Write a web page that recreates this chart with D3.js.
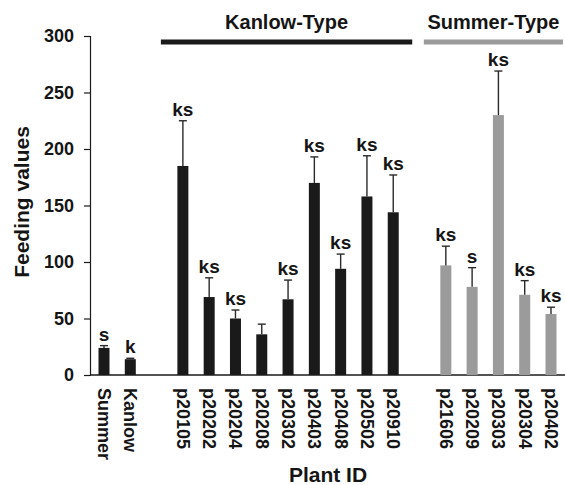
<!DOCTYPE html>
<html>
<head>
<meta charset="utf-8">
<script src="https://cdn.jsdelivr.net/npm/d3@7/dist/d3.min.js"></script>
<style>
  html, body { margin: 0; padding: 0; background: #fff; }
  svg { display: block; }
  text { font-family: "Liberation Sans", Arial, Helvetica, sans-serif; font-weight: bold; fill: #151515; }
</style>
</head>
<body>
<svg id="chart" width="565" height="485"></svg>
<script>
// ---- data ----
const categories = ["Summer","Kanlow","p20105","p20202","p20204","p20208","p20302","p20403","p20408","p20502","p20910","p21606","p20209","p20303","p20304","p20402"];
const groups     = ["control","control","kanlow","kanlow","kanlow","kanlow","kanlow","kanlow","kanlow","kanlow","kanlow","summer","summer","summer","summer","summer"];
const values     = [24, 14, 185, 69, 50, 36, 67, 170, 94, 158, 144, 97, 78, 230, 71, 54];
const errors     = [2, 0.8, 40, 17, 7.5, 9, 17, 23, 13, 36, 33, 17, 17, 39, 12.5, 6];
const letters    = ["s","k","ks","ks","ks","","ks","ks","ks","ks","ks","ks","s","ks","ks","ks"];
const yTicks     = [0, 50, 100, 150, 200, 250, 300];
const headerLabels = ["Kanlow-Type", "Summer-Type"];
const headerGroups = ["kanlow", "summer"];
const groupColors  = {control: "#1a1a1a", kanlow: "#1a1a1a", summer: "#9b9b9b"};

// ---- build slot domain (a blank slot between groups) ----
const slots = [];
categories.forEach((c, i) => {
  if (i > 0 && groups[i] !== groups[i - 1]) slots.push("__gap" + i);
  slots.push(c);
});

const svg = d3.select("#chart");
const x = d3.scalePoint().domain(slots).range([104, 551]);
const y = d3.scaleLinear().domain([0, 300]).range([375, 36]);
const barW = 11;

// y axis
const yAxis = svg.append("g").attr("transform", "translate(90,0)")
  .call(d3.axisLeft(y).tickValues(yTicks).tickSize(6).tickPadding(10));
yAxis.select(".domain").attr("stroke", "#1a1a1a").attr("stroke-width", 1.2);
yAxis.selectAll(".tick line").attr("stroke", "#1a1a1a").attr("stroke-width", 1.2);
yAxis.selectAll(".tick text").attr("font-size", 18).attr("font-family", "Liberation Sans, Arial, sans-serif").attr("font-weight", "bold").attr("fill", "#151515");

// x axis line
svg.append("line").attr("x1", 90).attr("x2", 565).attr("y1", y(0)).attr("y2", y(0))
  .attr("stroke", "#1a1a1a").attr("stroke-width", 1.5);

const data = categories.map((c, i) => ({c, g: groups[i], v: values[i], e: errors[i], l: letters[i]}));

// bars
svg.append("g").selectAll("rect").data(data).join("rect")
  .attr("x", d => x(d.c) - barW / 2)
  .attr("y", d => y(d.v))
  .attr("width", barW)
  .attr("height", d => y(0) - y(d.v))
  .attr("fill", d => groupColors[d.g]);

// error bars
const eb = svg.append("g").attr("stroke", "#2a2a2a").attr("stroke-width", 1.4);
eb.selectAll("line.v").data(data).join("line").attr("class", "v")
  .attr("x1", d => x(d.c)).attr("x2", d => x(d.c))
  .attr("y1", d => y(d.v)).attr("y2", d => y(d.v + d.e));
eb.selectAll("line.h").data(data).join("line").attr("class", "h")
  .attr("x1", d => x(d.c) - 4).attr("x2", d => x(d.c) + 4)
  .attr("y1", d => y(d.v + d.e)).attr("y2", d => y(d.v + d.e));

// letters
svg.append("g").selectAll("text").data(data).join("text")
  .attr("x", d => x(d.c))
  .attr("y", d => y(d.v + d.e) - 5)
  .attr("text-anchor", "middle")
  .attr("font-size", 19)
  .text(d => d.l);

// x tick labels (rotated)
svg.append("g").selectAll("text").data(data).join("text")
  .attr("transform", d => `translate(${x(d.c) - 6},388) rotate(90)`)
  .attr("font-size", 18)
  .attr("text-anchor", "start")
  .text(d => d.c);

// group headers
headerGroups.forEach((g, k) => {
  const members = categories.filter((c, i) => groups[i] === g);
  const x0 = x(members[0]) - 22;
  const x1 = Math.min(x(members[members.length - 1]) + 19, 563);
  svg.append("line").attr("x1", x0).attr("x2", x1).attr("y1", 42).attr("y2", 42)
    .attr("stroke", groupColors[g]).attr("stroke-width", 5);
  svg.append("text").attr("x", (x0 + x1) / 2).attr("y", 29)
    .attr("text-anchor", "middle").attr("font-size", 20).text(headerLabels[k]);
});

// axis titles
svg.append("text").attr("transform", "translate(29,202) rotate(-90)")
  .attr("text-anchor", "middle").attr("font-size", 21).text("Feeding values");
svg.append("text").attr("x", 328).attr("y", 482)
  .attr("text-anchor", "middle").attr("font-size", 21).text("Plant ID");
</script>
</body>
</html>
